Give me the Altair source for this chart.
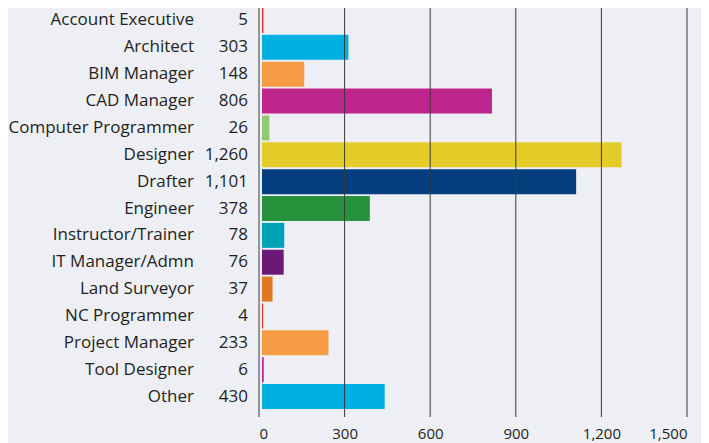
import altair as alt
import pandas as pd

categories = ["Account Executive", "Architect", "BIM Manager", "CAD Manager",
              "Computer Programmer", "Designer", "Drafter", "Engineer",
              "Instructor/Trainer", "IT Manager/Admn", "Land Surveyor",
              "NC Programmer", "Project Manager", "Tool Designer", "Other"]
values = [5, 303, 148, 806, 26, 1260, 1101, 378, 78, 76, 37, 4, 233, 6, 430]
value_labels = ["5", "303", "148", "806", "26", "1,260", "1,101", "378",
                "78", "76", "37", "4", "233", "6", "430"]
colors = ["#e8312f", "#00b0e2", "#f59c45", "#bd258c", "#92ca72", "#e3cc28",
          "#033f7f", "#27913c", "#00a2b5", "#6a1a76", "#e07820", "#e8312f",
          "#f59c45", "#bd258c", "#00b0e2"]
grid_ticks = [0, 300, 600, 900, 1200, 1500]

FONT = "Open Sans"
TXT = "#231f20"
BG = "#eeeff5"

df = pd.DataFrame({"role": categories, "count": values,
                   "label": value_labels, "color": colors})
grid_df = pd.DataFrame({"tick": grid_ticks})

x_scale = alt.Scale(domain=[0, 1500], nice=False)
y_enc = alt.Y("role:N", sort=categories, axis=None,
              scale=alt.Scale(paddingInner=0.07, paddingOuter=0))

bars = alt.Chart(df).mark_bar(xOffset=3, x2Offset=3).encode(
    x=alt.X("count:Q", scale=x_scale,
            axis=alt.Axis(values=grid_ticks, format=",d", domain=False,
                          ticks=False, grid=False, labelPadding=17,
                          labelFontSize=15, labelFont=FONT, labelColor=TXT,
                          title=None)),
    y=y_enc,
    color=alt.Color("color:N", scale=None),
)

rules = alt.Chart(grid_df).mark_rule(color="#3a3a3a", strokeWidth=1).encode(
    x=alt.X("tick:Q", scale=x_scale),
    y=alt.value(-1),
    y2=alt.value(409),
)

names = alt.Chart(df).mark_text(align="right", baseline="middle", font=FONT,
                                fontSize=17, color=TXT).encode(
    y=y_enc, x=alt.value(-65), text="role:N")

nums = alt.Chart(df).mark_text(align="right", baseline="middle", font=FONT,
                               fontSize=17, color=TXT).encode(
    y=y_enc, x=alt.value(-11), text="label:N")

chart = alt.layer(bars, rules, names, nums).properties(
    width=428, height=401,
    padding={"left": 251, "top": 0, "right": 14, "bottom": 45},
    autosize="none",
    background=BG,
).configure_view(stroke=None)

chart.save("out.html", embed_options={"renderer": "svg", "actions": False})
